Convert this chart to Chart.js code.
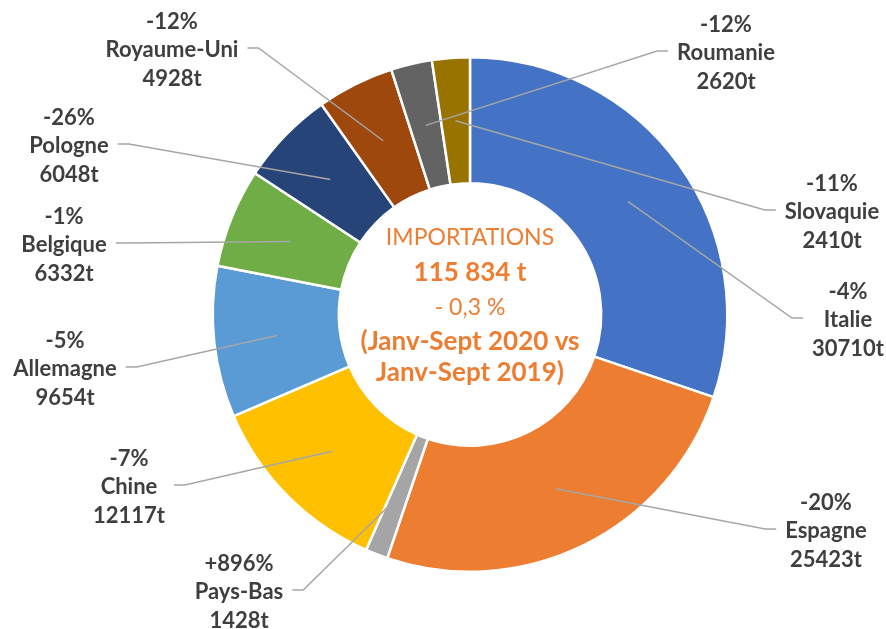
<!DOCTYPE html>
<html><head><meta charset="utf-8">
<script src="https://cdn.jsdelivr.net/npm/chart.js@4.4.1/dist/chart.umd.min.js"></script>
<style>html,body{margin:0;padding:0;background:#fff;}#wrap{width:886px;height:629px;position:relative;}</style>
</head><body><div id="wrap"><canvas id="c" width="886" height="629"></canvas></div>
<script>
// ---- data ----
const countries = ['Italie','Espagne','Pays-Bas','Chine','Allemagne','Belgique','Pologne','Royaume-Uni','Roumanie','Slovaquie'];
const tonnes    = [30710, 25423, 1428, 12117, 9654, 6332, 6048, 4928, 2620, 2410];
const changes   = ['-4%','-20%','+896%','-7%','-5%','-1%','-26%','-12%','-12%','-11%'];
const centerLines = ['IMPORTATIONS','115 834 t','- 0,3 %','(Janv-Sept 2020 vs','Janv-Sept 2019)'];
const centerBold  = [false, true, false, true, true];

// ---- styles / layout ----
const colors = ['#4472C4','#ED7D31','#A5A5A5','#FFC000','#5B9BD5','#70AD47','#264478','#9E480E','#636363','#997300'];
// label box centre x, name-line y, side of leader attachment
const labelPos = [
  {x:848,y:320,side:'right'},
  {x:826,y:531,side:'right'},
  {x:239,y:592,side:'left'},
  {x:129,y:487,side:'left'},
  {x:65, y:369,side:'left'},
  {x:64, y:245,side:'left'},
  {x:69, y:146,side:'left'},
  {x:172,y:50, side:'left'},
  {x:726,y:53, side:'right'},
  {x:832,y:212,side:'right'}
];
const LABEL_FONT = 'bold 22px Lato';
const LINE_H = 28.5;
const centerSizes = [23, 26, 23, 26, 26];
const centerYs = [238,273,308,342,373];

const labelPlugin = {
  id:'labels',
  afterDatasetsDraw(chart){
    const ctx = chart.ctx;
    const meta = chart.getDatasetMeta(0);
    ctx.save();
    ctx.font = LABEL_FONT;
    ctx.textAlign = 'center';
    ctx.textBaseline = 'middle';
    meta.data.forEach((arc,i)=>{
      const p = labelPos[i];
      const lines = [changes[i], countries[i], tonnes[i]+'t'];
      const w = Math.max(...lines.map(l=>ctx.measureText(l).width));
      const c = arc.tooltipPosition();
      let ex, hx;
      if (p.side==='left'){ ex = p.x + w/2 + 9; hx = ex + 11; }
      else { ex = p.x - w/2 - 9; hx = ex - 11; }
      const ly = p.y - 2;
      ctx.strokeStyle = '#A6A6A6';
      ctx.lineWidth = 1.5;
      ctx.beginPath();
      ctx.moveTo(ex, ly); ctx.lineTo(hx, ly); ctx.lineTo(c.x, c.y);
      ctx.stroke();
      ctx.fillStyle = '#3F3F3F';
      lines.forEach((l,k)=>ctx.fillText(l, p.x, p.y + (k-1)*LINE_H));
    });
    // centre text
    const cx = (chart.chartArea.left + chart.chartArea.right)/2;
    ctx.fillStyle = '#ED7D31';
    centerLines.forEach((t,k)=>{
      ctx.font = (centerBold[k]?'bold ':'') + centerSizes[k] + 'px Lato';
      ctx.fillText(t, cx, centerYs[k]);
    });
    ctx.restore();
  }
};

new Chart(document.getElementById('c'), {
  type:'doughnut',
  data:{ labels: countries, datasets:[{ data: tonnes, backgroundColor: colors, borderColor:'#ffffff', borderWidth:2.5 }]},
  options:{
    responsive:false, animation:false,
    cutout:'51%', rotation:0,
    layout:{ padding:{ top:56, bottom:56, left:54, right:0 } },
    plugins:{ legend:{display:false}, tooltip:{enabled:false} }
  },
  plugins:[labelPlugin]
});
</script></body></html>
